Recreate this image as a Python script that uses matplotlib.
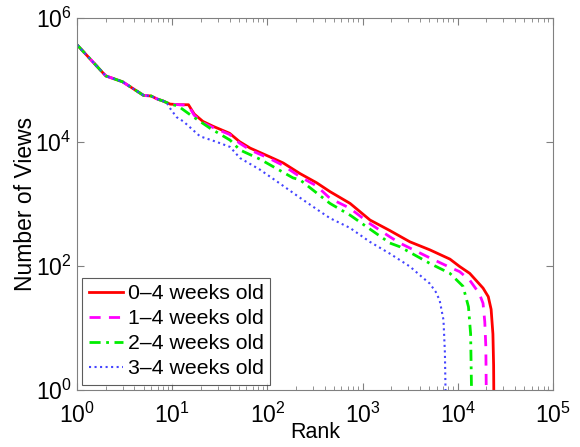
import numpy as np
import matplotlib
matplotlib.use('Agg')
import matplotlib.pyplot as plt
from matplotlib.ticker import LogLocator, NullFormatter, NullLocator

plt.rcParams['font.family'] = ['Liberation Sans', 'DejaVu Sans']
plt.rcParams['mathtext.default'] = 'regular'

# rank vs number of views
rank_0_4 = [1, 2, 3, 5, 6, 7, 8, 9.5, 12, 14.8, 17, 21, 27, 40, 51, 66, 106, 147,
            220, 330, 455, 740, 1200, 1940, 2470, 3150, 5100, 8300, 10500, 13400,
            18500, 21000, 22500, 23500, 23900, 24000]
views_0_4 = [367000, 116000, 93300, 56200, 55000, 49000, 45700, 40700, 39800, 39800,
             28200, 21400, 17800, 13800, 10100, 7940, 5750, 4570, 3090, 2190, 1580,
             1020, 550, 372, 302, 245, 182, 129, 98, 76, 44, 32, 20, 8, 2.5, 1]

rank_1_4 = [1, 2, 3, 5, 6, 7, 8, 9.5, 12, 14.8, 17, 21, 27, 40, 51, 66, 106, 147,
            220, 330, 455, 740, 1200, 1940, 2470, 5100, 8300, 10500, 13400, 16900,
            18500, 19300, 19800, 20000]
views_1_4 = [367000, 116000, 93300, 56200, 55000, 49000, 45700, 40700, 39800, 38900,
             26900, 20400, 17000, 13200, 9550, 7410, 5370, 4170, 2750, 1950, 1230,
             850, 480, 295, 234, 135, 95, 81, 59, 36, 25, 12.6, 5, 1]

rank_2_4 = [1, 2, 3, 5, 6, 7, 8, 9.5, 11.5, 15.4, 25, 40.5, 51.5, 84, 186, 220, 455,
            740, 1940, 2470, 5100, 8300, 11400, 13000, 13700, 14000]
views_2_4 = [367000, 116000, 93300, 56200, 55000, 49000, 45700, 40700, 38000, 27500,
             16600, 10700, 7410, 5250, 2630, 2450, 1020, 660, 234, 204, 110, 76, 47,
             22, 8, 1]

rank_3_4 = [1, 2, 3, 5, 6, 7, 8, 8.7, 9.5, 11.1, 13.1, 19.6, 29.3, 40.5, 51.5, 84,
            135, 220, 356, 455, 740, 1195, 1940, 3150, 4010, 5100, 5900, 6470, 7100,
            7350, 7460]
views_3_4 = [367000, 116000, 93300, 56200, 55000, 49000, 45700, 43600, 34700, 25100,
             21400, 12300, 10000, 8300, 5500, 3550, 2140, 1260, 760, 590, 410, 245,
             158, 98, 71, 52, 38, 28, 13.5, 4, 1]

labels = ['0\u20134 weeks old', '1\u20134 weeks old', '2\u20134 weeks old',
          '3\u20134 weeks old']

fig = plt.figure(figsize=(5.8, 4.47), dpi=100)
ax = fig.add_axes([0.133, 0.1275, 0.82, 0.8325])

ax.loglog(rank_0_4, views_0_4, '-', color='#ff0000', lw=2.0, label=labels[0])
ax.loglog(rank_1_4, views_1_4, '--', color='#ff00ff', lw=2.0, label=labels[1],
          dashes=(4, 3))
ax.loglog(rank_2_4, views_2_4, '-.', color='#00ee00', lw=2.0, label=labels[2],
          dashes=(4, 2, 1, 2))
ax.loglog(rank_3_4, views_3_4, ':', color='#4444ff', lw=1.5, label=labels[3])

ax.set_xlim(1, 1e5)
ax.set_ylim(1, 1e6)

ax.xaxis.set_major_locator(LogLocator(base=10, numticks=10))
ax.xaxis.set_minor_locator(LogLocator(base=10, subs=np.arange(2, 10), numticks=10))
ax.xaxis.set_minor_formatter(NullFormatter())
ax.yaxis.set_major_locator(LogLocator(base=100, numticks=10))
ax.yaxis.set_minor_locator(NullLocator())

ax.tick_params(which='both', direction='in', top=True, right=True,
               labelsize=16.5, color='#808080')
ax.tick_params(axis='x', pad=9)
ax.tick_params(axis='y', pad=4)
ax.tick_params(which='major', length=5)
ax.tick_params(which='minor', length=3)
for s in ax.spines.values():
    s.set_color('#808080')

ax.set_xlabel('Rank', fontsize=15.5, labelpad=-4)
ax.set_ylabel('Number of Views', fontsize=16.5, labelpad=-1)

leg = ax.legend(loc='lower left', fontsize=15.3, frameon=True, fancybox=False,
                handlelength=1.6, handletextpad=0.25, borderpad=0.3,
                labelspacing=0.28, borderaxespad=0.25)
leg.get_frame().set_edgecolor('#333333')
leg.get_frame().set_linewidth(0.8)

fig.savefig('out.png', dpi=100)
